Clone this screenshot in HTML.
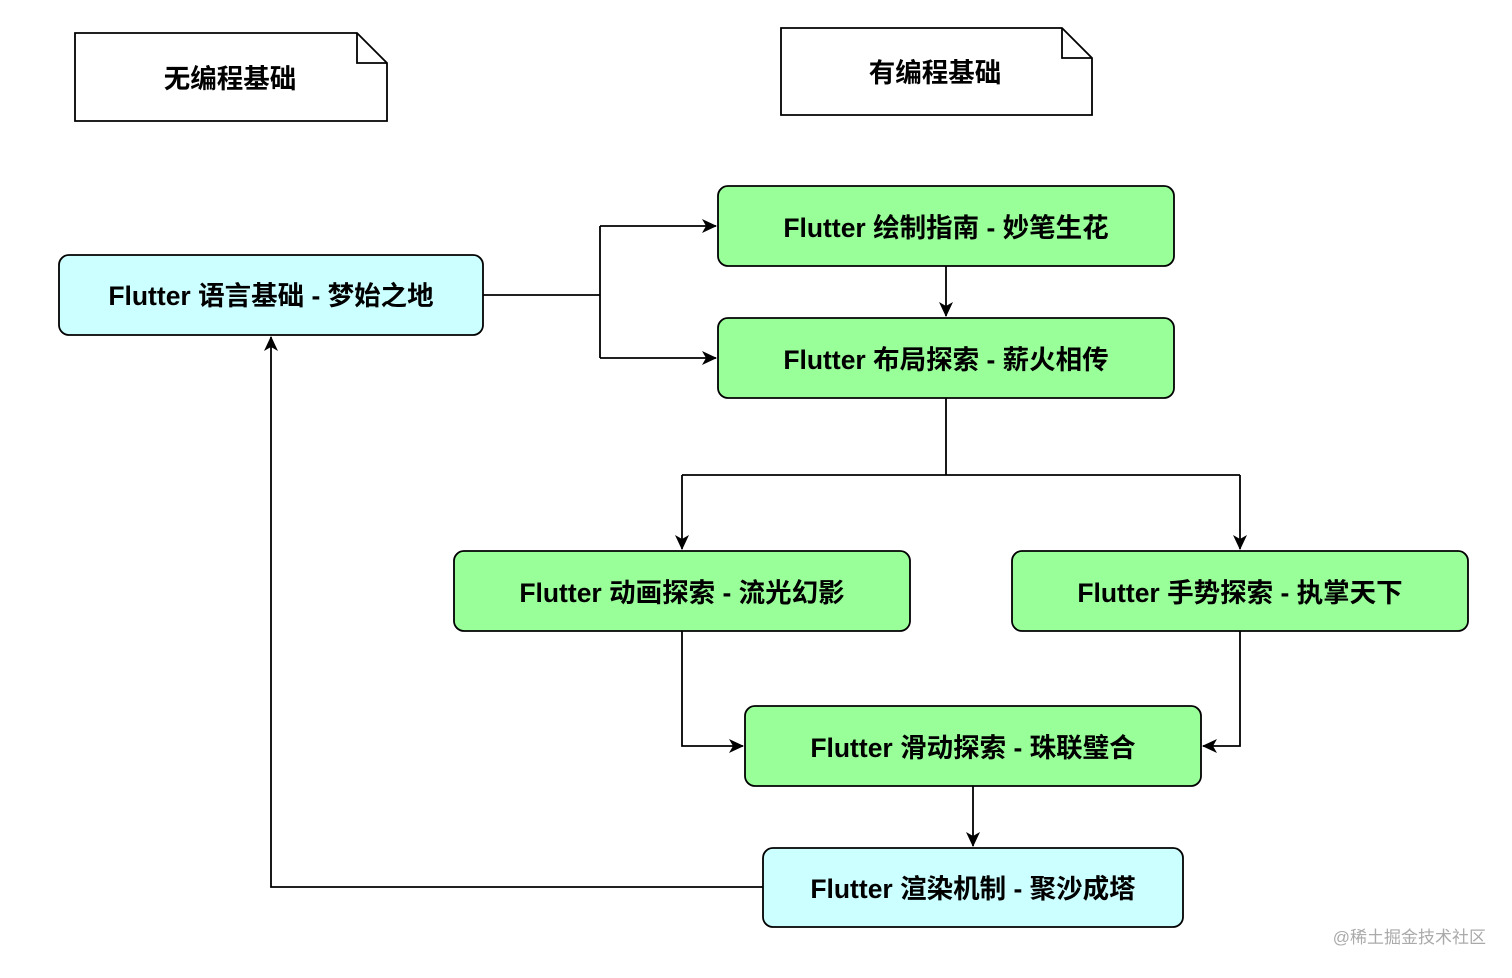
<!DOCTYPE html>
<html><head><meta charset="utf-8"><style>
html,body{margin:0;padding:0;background:#fff;}
svg text{font-family:"Liberation Sans","Noto Sans CJK SC",sans-serif;font-weight:bold;font-size:26.5px;fill:#000;}
</style></head><body>
<svg width="1512" height="973" viewBox="0 0 1512 973" xmlns="http://www.w3.org/2000/svg">
<defs><marker id="a" markerWidth="16" markerHeight="16" refX="14" refY="7" orient="auto" markerUnits="userSpaceOnUse"><path d="M0,0 L15,7 L0,14 L4,7 Z" fill="#000"/></marker></defs>
<g fill="#fff" stroke="#000" stroke-width="1.8">
<path d="M75,33 H357 L387,63 V121 H75 Z"/><path d="M357,33 V63 H387" fill="none"/>
<path d="M781,28 H1062 L1092,58 V115 H781 Z"/><path d="M1062,28 V58 H1092" fill="none"/>
</g>
<text x="230" y="88" text-anchor="middle">无编程基础</text>
<text x="935" y="82" text-anchor="middle">有编程基础</text>
<g stroke="#000" stroke-width="1.8">
<rect x="59" y="255" width="424" height="80" rx="10" fill="#ccffff"/>
<rect x="718" y="186" width="456" height="80" rx="10" fill="#99ff99"/>
<rect x="718" y="318" width="456" height="80" rx="10" fill="#99ff99"/>
<rect x="454" y="551" width="456" height="80" rx="10" fill="#99ff99"/>
<rect x="1012" y="551" width="456" height="80" rx="10" fill="#99ff99"/>
<rect x="745" y="706" width="456" height="80" rx="10" fill="#99ff99"/>
<rect x="763" y="848" width="420" height="79" rx="10" fill="#ccffff"/>
</g>
<g text-anchor="middle">
<text x="271" y="305">Flutter 语言基础 - 梦始之地</text>
<text x="946" y="237">Flutter 绘制指南 - 妙笔生花</text>
<text x="946" y="369">Flutter 布局探索 - 薪火相传</text>
<text x="682" y="602">Flutter 动画探索 - 流光幻影</text>
<text x="1240" y="602">Flutter 手势探索 - 执掌天下</text>
<text x="973" y="757">Flutter 滑动探索 - 珠联璧合</text>
<text x="973" y="898">Flutter 渲染机制 - 聚沙成塔</text>
</g>
<g fill="none" stroke="#000" stroke-width="1.8">
<path d="M483,295 H600"/>
<path d="M600,226 V358"/>
<path d="M600,226 H716" marker-end="url(#a)"/>
<path d="M600,358 H716" marker-end="url(#a)"/>
<path d="M946,266 V316" marker-end="url(#a)"/>
<path d="M946,398 V475 M682,475 H1240"/>
<path d="M682,475 V549" marker-end="url(#a)"/>
<path d="M1240,475 V549" marker-end="url(#a)"/>
<path d="M682,631 V746 H743" marker-end="url(#a)"/>
<path d="M1240,631 V746 H1203" marker-end="url(#a)"/>
<path d="M973,786 V846" marker-end="url(#a)"/>
<path d="M763,887 H271 V337" marker-end="url(#a)"/>
</g>
<text x="1486" y="943" text-anchor="end" style="font-size:17px;font-weight:normal;fill:#aaa">@稀土掘金技术社区</text>
</svg>
</body></html>
